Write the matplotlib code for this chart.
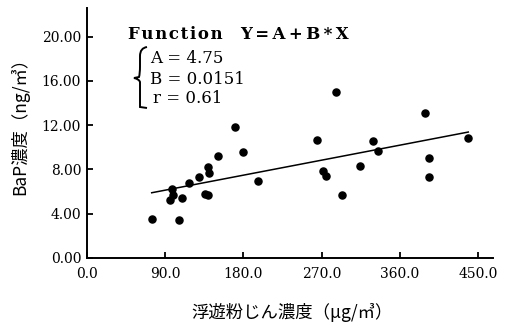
import matplotlib.pyplot as plt
from matplotlib.path import Path
from matplotlib.patches import PathPatch

# dust concentration (ug/m3) and BaP concentration (ng/m3)
dust = [74.7, 95.7, 98.4, 99.2, 106.4, 109.2, 117.9, 129.4, 135.4, 139.8,
        139.8, 140.9, 150.9, 170.0, 180.0, 196.5, 265.0, 272.0, 274.7, 286.6,
        294.0, 313.8, 328.7, 334.5, 389.2, 393.8, 393.4, 438.6]
bap = [3.47, 5.22, 6.19, 5.67, 3.41, 5.38, 6.79, 7.33, 5.76, 5.67,
       8.18, 7.69, 9.23, 11.8, 9.54, 6.91, 10.68, 7.85, 7.39, 15.02,
       5.70, 8.30, 10.56, 9.66, 13.07, 9.0, 7.28, 10.86]

A = 4.75
B = 0.0151
r = 0.61

xticks = [0, 90, 180, 270, 360, 450]
yticks = [0, 4, 8, 12, 16, 20]

W, H = 506, 326
fig = plt.figure(figsize=(W / 100, H / 100), dpi=100)
ax = fig.add_axes([86.7 / W, 1 - 257.7 / H, (493 - 86.7) / W, (257.7 - 8) / H])

ax.scatter(dust, bap, s=26, color='black', zorder=3)
x0, x1 = min(dust), max(dust)
ax.plot([x0, x1], [A + B * x0, A + B * x1], color='black', lw=1.1)

ax.set_xlim(0, 467)
ax.set_ylim(0, 22.6)
ax.set_xticks(xticks)
ax.set_xticklabels(['%.1f' % v for v in xticks], family='DejaVu Serif', fontsize=10)
ax.set_yticks(yticks)
ax.set_yticklabels(['%.2f' % v for v in yticks], family='DejaVu Serif', fontsize=10)
ax.tick_params(axis='x', direction='in', length=4, width=1.3, pad=6.5)
ax.tick_params(axis='y', direction='in', length=4, width=1.3, pad=4)
for s in ['top', 'right']:
    ax.spines[s].set_visible(False)
for s in ['left', 'bottom']:
    ax.spines[s].set_linewidth(1.4)

jp = ['Noto Sans CJK JP', 'DejaVu Sans']
fig.text(20 / W, 1 - 122 / H, 'BaP濃度（ng/㎥）', rotation=90, ha='center', va='center',
         family=jp, fontsize=12.5)
fig.text(292 / W, 1 - 312 / H, '浮遊粉じん濃度（μg/㎥）', ha='center', va='center',
         family=jp, fontsize=12.5)

# regression result box
fig.text(128 / W, 1 - 39 / H, '\u200a'.join('Function'), family='DejaVu Serif',
         weight='bold', fontsize=12, va='baseline')
fig.text(240 / W, 1 - 39 / H, '\u2009'.join('Y=A+B*X'), family='DejaVu Serif',
         weight='bold', fontsize=12, va='baseline')
fig.text(150 / W, 1 - 63 / H, 'A = %.2f' % A, family='DejaVu Serif', fontsize=12, va='baseline')
fig.text(150 / W, 1 - 84 / H, 'B = %.4f' % B, family='DejaVu Serif', fontsize=12, va='baseline')
fig.text(153 / W, 1 - 103 / H, 'r = %.2f' % r, family='DejaVu Serif', fontsize=12, va='baseline')


def fpt(px, py):
    return (px / W, 1 - py / H)


verts = [fpt(147, 47), fpt(140, 48), fpt(140, 56), fpt(140, 66),
         fpt(140, 74), fpt(139, 77), fpt(134, 78),
         fpt(139, 79), fpt(140, 82), fpt(140, 90),
         fpt(140, 100), fpt(140, 107), fpt(147, 108)]
codes = [Path.MOVETO, Path.CURVE3, Path.CURVE3, Path.LINETO,
         Path.CURVE3, Path.CURVE3, Path.LINETO,
         Path.CURVE3, Path.CURVE3, Path.LINETO,
         Path.CURVE3, Path.CURVE3, Path.LINETO]
fig.add_artist(PathPatch(Path(verts, codes), transform=fig.transFigure,
                         fill=False, lw=1.4, color='black'))

fig.savefig('out.png', dpi=100)
